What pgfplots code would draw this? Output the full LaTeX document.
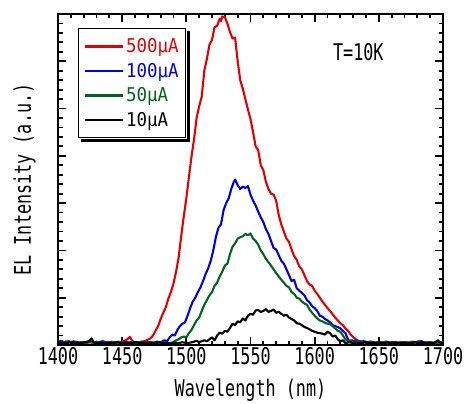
\documentclass[border=0pt]{standalone}
\usepackage{pgfplots}
\pgfplotsset{compat=1.18}
\usepackage{fontspec}
\setmainfont[FakeStretch=0.73]{DejaVu Sans Mono}
\newfontfamily\legfont[FakeStretch=0.92]{DejaVu Sans Mono}
\definecolor{cred}{RGB}{228,0,0}
\definecolor{cblue}{RGB}{0,0,230}
\definecolor{cgreen}{RGB}{0,100,30}
\newcommand{\lbl}{\fontsize{23}{25}\selectfont}
\newcommand{\leg}{\legfont\fontsize{19}{21}\selectfont}

\pgfplotstableread{
x y
1400 0.06
1403 0.04
1406 0.07
1409 0.05
1412 0.08
1415 0.05
1418 0.06
1421 0.04
1424 0.07
1427 0.05
1430 0.06
1433 0.04
1436 0.06
1439 0.05
1442 0.07
1445 0.05
1448 0.06
1451 0.08
1454 0.12
1456 0.17
1458 0.08
1461 0.05
1464 0.06
1467 0.08
1469 0.10
1472 0.14
1474 0.20
1476 0.30
1478 0.40
1480 0.55
1482 0.68
1484 0.80
1486 0.98
1488 1.12
1490 1.30
1492 1.55
1494 1.85
1496 2.30
1498 2.72
1500 3.10
1502 3.55
1504 3.98
1506 4.35
1508 4.80
1510 5.05
1512 5.25
1514 5.80
1516 6.05
1518 6.35
1520 6.45
1522 6.72
1524 6.75
1526 6.90
1527 6.85
1528 6.95
1530 6.93
1532 6.80
1534 6.62
1536 6.48
1538 6.50
1540 6.00
1542 5.60
1544 5.42
1546 5.20
1548 4.98
1550 4.78
1552 4.50
1554 4.20
1556 4.12
1558 3.80
1560 3.70
1562 3.45
1564 3.30
1566 3.20
1568 3.18
1570 3.05
1572 2.75
1574 2.55
1576 2.40
1578 2.25
1580 2.18
1582 2.02
1584 1.88
1586 1.80
1588 1.66
1590 1.60
1592 1.48
1594 1.35
1596 1.28
1598 1.25
1600 1.15
1602 1.08
1604 1.00
1606 0.92
1608 0.85
1610 0.78
1612 0.72
1614 0.65
1616 0.58
1618 0.52
1620 0.46
1622 0.42
1624 0.35
1626 0.30
1628 0.22
1630 0.17
1632 0.12
1634 0.09
1637 0.07
1640 0.05
1643 0.07
1646 0.04
1649 0.06
1652 0.05
1655 0.07
1658 0.04
1661 0.06
1664 0.05
1667 0.06
1670 0.04
1673 0.05
1676 0.07
1679 0.06
1682 0.08
1685 0.05
1688 0.06
1691 0.04
1694 0.06
1697 0.05
1700 0.06
}\redA

\pgfplotstableread{
x y
1400 0.05
1402 0.09
1405 0.06
1408 0.08
1411 0.05
1414 0.07
1417 0.04
1420 0.06
1423 0.05
1426 0.07
1429 0.04
1432 0.06
1435 0.08
1438 0.05
1441 0.06
1444 0.04
1447 0.07
1450 0.05
1453 0.06
1456 0.04
1459 0.06
1462 0.05
1465 0.07
1468 0.05
1471 0.06
1474 0.04
1477 0.07
1480 0.06
1483 0.10
1485 0.08
1487 0.16
1489 0.22
1491 0.20
1493 0.32
1495 0.40
1497 0.45
1499 0.48
1501 0.62
1503 0.78
1505 0.92
1507 1.00
1509 1.12
1511 1.22
1513 1.35
1515 1.50
1517 1.62
1519 1.78
1521 2.00
1523 2.28
1525 2.48
1527 2.55
1529 2.85
1531 3.00
1533 3.10
1535 3.30
1537 3.45
1538 3.50
1540 3.38
1542 3.30
1544 3.35
1546 3.32
1548 3.36
1550 3.18
1552 3.05
1554 2.95
1556 2.82
1558 2.70
1560 2.60
1562 2.45
1564 2.35
1566 2.20
1568 2.05
1570 2.02
1572 1.90
1574 1.78
1576 1.72
1578 1.60
1580 1.48
1582 1.35
1584 1.38
1586 1.20
1588 1.15
1590 1.10
1592 1.05
1594 0.95
1596 0.90
1598 0.82
1600 0.78
1602 0.72
1604 0.62
1606 0.60
1608 0.55
1610 0.52
1612 0.48
1614 0.42
1616 0.40
1618 0.38
1620 0.35
1622 0.30
1624 0.25
1625 0.18
1627 0.06
1629 0.10
1631 0.08
1633 0.10
1635 0.07
1638 0.08
1641 0.06
1644 0.07
1647 0.05
1650 0.06
1653 0.04
1656 0.07
1659 0.05
1662 0.06
1665 0.04
1668 0.05
1671 0.06
1674 0.04
1677 0.05
1680 0.07
1683 0.08
1686 0.05
1689 0.06
1692 0.04
1695 0.05
1698 0.06
1700 0.05
}\blueB

\pgfplotstableread{
x y
1400 0.04
1403 0.06
1406 0.05
1409 0.07
1412 0.04
1415 0.06
1418 0.05
1421 0.04
1424 0.06
1427 0.05
1430 0.07
1433 0.04
1436 0.05
1439 0.06
1442 0.04
1445 0.05
1448 0.06
1451 0.04
1454 0.05
1457 0.06
1460 0.04
1463 0.05
1466 0.06
1469 0.04
1472 0.06
1475 0.05
1478 0.04
1481 0.06
1484 0.05
1487 0.04
1490 0.06
1492 0.10
1494 0.12
1496 0.16
1498 0.18
1500 0.16
1502 0.25
1504 0.32
1506 0.42
1508 0.52
1510 0.58
1512 0.72
1514 0.85
1516 0.95
1518 1.05
1520 1.12
1522 1.25
1524 1.32
1526 1.45
1528 1.55
1530 1.68
1532 1.72
1534 1.92
1536 2.08
1538 2.15
1540 2.25
1542 2.28
1544 2.30
1546 2.35
1548 2.32
1550 2.36
1552 2.25
1554 2.20
1556 2.12
1558 2.00
1560 1.92
1562 1.82
1564 1.75
1566 1.68
1568 1.60
1570 1.52
1572 1.45
1574 1.38
1576 1.32
1578 1.25
1580 1.22
1582 1.12
1584 1.08
1586 1.00
1588 0.98
1590 0.92
1592 0.88
1594 0.85
1596 0.75
1598 0.68
1600 0.62
1602 0.56
1604 0.52
1606 0.50
1608 0.47
1610 0.45
1612 0.44
1614 0.40
1616 0.35
1618 0.30
1620 0.28
1622 0.20
1624 0.12
1626 0.08
1628 0.10
1630 0.06
1633 0.08
1636 0.05
1639 0.07
1642 0.05
1645 0.06
1648 0.04
1651 0.05
1654 0.06
1657 0.04
1660 0.05
1663 0.06
1666 0.04
1669 0.05
1672 0.06
1675 0.04
1678 0.05
1681 0.06
1684 0.04
1687 0.05
1690 0.06
1693 0.04
1696 0.05
1700 0.06
}\greenC

\pgfplotstableread{
x y
1400 0.04
1403 0.05
1406 0.03
1409 0.06
1412 0.04
1415 0.05
1418 0.03
1421 0.06
1424 0.08
1426 0.14
1428 0.06
1431 0.04
1434 0.05
1437 0.03
1440 0.05
1443 0.04
1446 0.06
1449 0.04
1452 0.03
1455 0.05
1458 0.04
1461 0.06
1464 0.04
1467 0.05
1470 0.03
1473 0.05
1476 0.04
1479 0.06
1482 0.04
1485 0.05
1488 0.03
1491 0.05
1494 0.04
1497 0.06
1500 0.04
1503 0.05
1506 0.07
1508 0.09
1510 0.06
1512 0.08
1514 0.10
1516 0.08
1518 0.12
1520 0.16
1522 0.10
1524 0.20
1526 0.26
1528 0.24
1530 0.30
1532 0.28
1534 0.36
1536 0.45
1538 0.42
1540 0.50
1542 0.48
1544 0.56
1546 0.52
1548 0.62
1550 0.66
1552 0.64
1554 0.73
1556 0.74
1558 0.70
1560 0.72
1562 0.76
1564 0.70
1566 0.72
1568 0.75
1570 0.68
1572 0.70
1574 0.66
1576 0.62
1578 0.64
1580 0.58
1582 0.55
1584 0.52
1586 0.46
1588 0.45
1590 0.42
1592 0.38
1594 0.36
1596 0.33
1598 0.30
1600 0.28
1602 0.26
1604 0.25
1606 0.24
1608 0.22
1610 0.28
1612 0.25
1614 0.18
1616 0.20
1618 0.12
1620 0.08
1622 0.10
1624 0.04
1627 0.06
1630 0.04
1633 0.05
1636 0.03
1639 0.06
1642 0.04
1645 0.05
1648 0.03
1651 0.05
1654 0.04
1657 0.06
1660 0.03
1663 0.05
1666 0.04
1669 0.05
1672 0.03
1675 0.04
1678 0.06
1681 0.04
1684 0.05
1687 0.03
1690 0.05
1693 0.04
1696 0.10
1698 0.05
1700 0.04
}\blackD

\begin{document}
\begin{tikzpicture}
  \begin{axis}[
    scale only axis,
    width=385pt, height=331pt,
    xmin=1400, xmax=1700,
    ymin=0, ymax=7,
    xtick={1400,1450,...,1700},
    minor x tick num=4,
    ytick={0,1,...,7},
    minor y tick num=4,
    yticklabels={},
    tick align=inside,
    major tick length=8pt,
    minor tick length=4.5pt,
    every tick/.style={black, line width=1.8pt},
    axis line style={line width=2.8pt},
    xtick pos=both, ytick pos=both,
    /pgf/number format/assume math mode=true,
    /pgf/number format/set thousands separator={},
    xticklabel style={font=\lbl, yshift=1pt},
    xlabel={Wavelength (nm)},
    ylabel={EL Intensity (a.u.)},
    label style={font=\lbl},
    xlabel shift=7pt,
    ylabel shift=12pt,
    legend cell align=left,
    legend style={
      name=leg,
      at={(0.052,0.958)}, anchor=north west,
      font=\leg, draw=black, line width=1pt,
      inner xsep=5pt, inner ysep=8pt, row sep=5pt,
    },
    legend image code/.code={\draw[#1, line width=2.6pt, line cap=butt] (0pt,0pt) -- (38pt,0pt);},
    every axis plot/.append style={line width=2.1pt, line join=round},
  ]
    \addplot[cred] table {\redA};
    \addlegendentry{\textcolor{cred}{500μA}}
    \addplot[cblue] table {\blueB};
    \addlegendentry{\textcolor{cblue}{100μA}}
    \addplot[cgreen] table {\greenC};
    \addlegendentry{\textcolor{cgreen}{50μA}}
    \addplot[black] table {\blackD};
    \addlegendentry{10μA}
    \node[font=\lbl] at (axis cs:1634,6.2) {T=10K};
    \coordinate (bl) at (rel axis cs:0,0);
    \coordinate (tr) at (rel axis cs:1,1);
  \end{axis}
  % shadow of the legend box, right and bottom edges
  \draw[black, line width=3pt, line cap=butt]
    ([shift={(2pt,-3pt)}]leg.north east) -- ([shift={(2pt,-2pt)}]leg.south east)
    -- ([shift={(3pt,-2pt)}]leg.south west);
  \pgfresetboundingbox
  \path[use as bounding box] ([shift={(-58pt,-58pt)}]bl) rectangle ([shift={(21pt,14pt)}]tr);
\end{tikzpicture}
\end{document}
